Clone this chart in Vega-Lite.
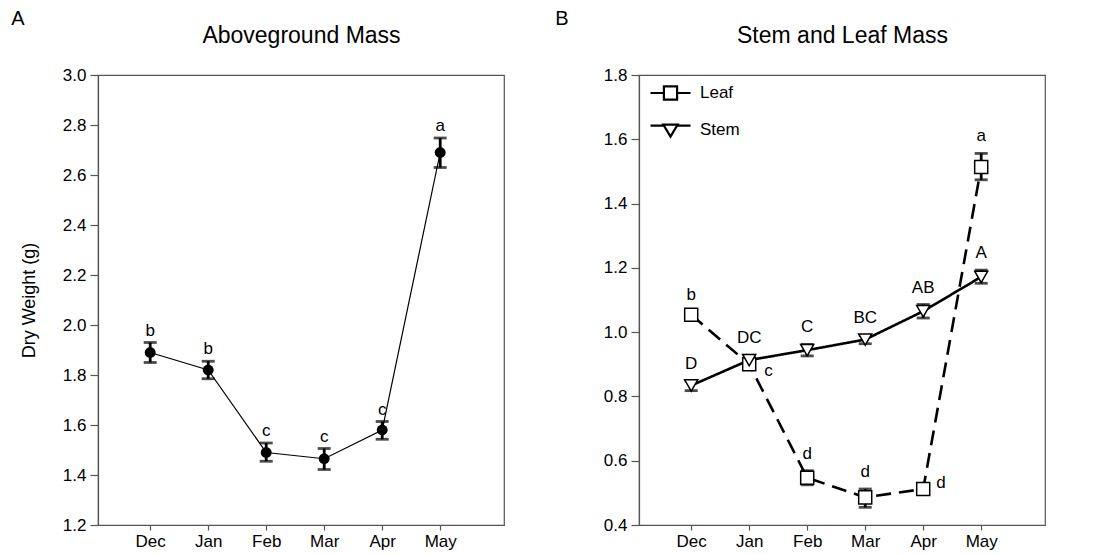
{
  "$schema": "https://vega.github.io/schema/vega-lite/v6.json",
  "padding": {"left": 10, "top": 8, "right": 0, "bottom": 0},
  "background": "white",
  "config": {
    "font": "Liberation Sans",
    "view": {"stroke": "#555", "strokeWidth": 1.2},
    "axis": {"grid": false, "domainColor": "#555", "domainWidth": 1.2, "tickColor": "#555", "tickWidth": 1.2, "labelFont": "Liberation Sans", "labelFontSize": 17, "labelColor": "black", "titleFont": "Liberation Sans", "titleFontSize": 18, "titleFontWeight": "normal", "titleColor": "black"},
    "axisY": {"tickSize": 8, "labelPadding": 4, "titlePadding": 24},
    "axisX": {"tickSize": 5, "labelPadding": 3},
    "title": {"font": "Liberation Sans", "fontSize": 20, "fontWeight": "normal", "color": "black"}
  },
  "datasets": {
    "mass": [
      {"month": "Dec", "mean": 1.89, "lo": 1.85, "hi": 1.93, "letter": "b"},
      {"month": "Jan", "mean": 1.82, "lo": 1.785, "hi": 1.855, "letter": "b"},
      {"month": "Feb", "mean": 1.49, "lo": 1.455, "hi": 1.528, "letter": "c"},
      {"month": "Mar", "mean": 1.465, "lo": 1.422, "hi": 1.506, "letter": "c"},
      {"month": "Apr", "mean": 1.58, "lo": 1.543, "hi": 1.614, "letter": "c"},
      {"month": "May", "mean": 2.69, "lo": 2.63, "hi": 2.748, "letter": "a"}
    ],
    "parts": [
      {"series": "Leaf", "month": "Dec", "mean": 1.054, "lo": 1.044, "hi": 1.064, "letter": "b"},
      {"series": "Leaf", "month": "Jan", "mean": 0.9, "lo": 0.89, "hi": 0.91, "letter": "c"},
      {"series": "Leaf", "month": "Feb", "mean": 0.547, "lo": 0.525, "hi": 0.569, "letter": "d"},
      {"series": "Leaf", "month": "Mar", "mean": 0.486, "lo": 0.455, "hi": 0.512, "letter": "d"},
      {"series": "Leaf", "month": "Apr", "mean": 0.512, "lo": 0.502, "hi": 0.522, "letter": "d"},
      {"series": "Leaf", "month": "May", "mean": 1.514, "lo": 1.474, "hi": 1.556, "letter": "a"},
      {"series": "Stem", "month": "Dec", "mean": 0.834, "lo": 0.818, "hi": 0.848, "letter": "D"},
      {"series": "Stem", "month": "Jan", "mean": 0.913, "lo": 0.898, "hi": 0.928, "letter": "DC"},
      {"series": "Stem", "month": "Feb", "mean": 0.944, "lo": 0.926, "hi": 0.962, "letter": "C"},
      {"series": "Stem", "month": "Mar", "mean": 0.977, "lo": 0.964, "hi": 0.99, "letter": "BC"},
      {"series": "Stem", "month": "Apr", "mean": 1.065, "lo": 1.044, "hi": 1.086, "letter": "AB"},
      {"series": "Stem", "month": "May", "mean": 1.172, "lo": 1.152, "hi": 1.193, "letter": "A"}
    ]
  },
  "spacing": 49,
  "hconcat": [
    {
      "width": 406,
      "height": 450,
      "title": {"text": "A", "anchor": "start", "frame": "bounds", "offset": -5, "dx": -9},
      "data": {"name": "mass"},
      "resolve": {"axis": {"x": "independent"}},
      "layer": [
        {
          "mark": {"type": "line", "color": "black", "strokeWidth": 1.2},
          "encoding": {
            "x": {"field": "month", "type": "ordinal", "sort": ["Dec", "Jan", "Feb", "Mar", "Apr", "May"], "scale": {"type": "point", "padding": 1, "align": 0.45}, "axis": {"orient": "bottom", "labelAngle": 0, "title": null}},
            "y": {"field": "mean", "type": "quantitative", "scale": {"domain": [1.2, 3.0], "nice": false, "zero": false}, "axis": {"title": "Dry Weight (g)", "values": [1.2, 1.4, 1.6, 1.8, 2.0, 2.2, 2.4, 2.6, 2.8, 3.0], "format": ".1f"}}
          }
        },
        {
          "mark": {"type": "errorbar", "ticks": true, "size": 13, "thickness": 2.8, "color": "black"},
          "encoding": {
            "x": {"field": "month", "type": "ordinal", "sort": ["Dec", "Jan", "Feb", "Mar", "Apr", "May"], "axis": null},
            "y": {"field": "lo", "type": "quantitative", "title": "Dry Weight (g)"},
            "y2": {"field": "hi"}
          }
        },
        {
          "mark": {"type": "point", "filled": true, "shape": "circle", "size": 120, "color": "black", "opacity": 1},
          "encoding": {
            "x": {"field": "month", "type": "ordinal", "sort": ["Dec", "Jan", "Feb", "Mar", "Apr", "May"], "axis": null},
            "y": {"field": "mean", "type": "quantitative", "title": "Dry Weight (g)"}
          }
        },
        {
          "mark": {"type": "text", "baseline": "bottom", "dy": -3, "fontSize": 17, "color": "black"},
          "encoding": {
            "x": {"field": "month", "type": "ordinal", "sort": ["Dec", "Jan", "Feb", "Mar", "Apr", "May"], "axis": {"orient": "top", "title": "Aboveground Mass", "labels": false, "ticks": false, "domain": false, "titleFontSize": 23, "titlePadding": 28}},
            "y": {"field": "hi", "type": "quantitative", "title": "Dry Weight (g)"},
            "text": {"field": "letter"}
          }
        }
      ]
    },
    {
      "width": 406,
      "height": 450,
      "title": {"text": "B", "anchor": "start", "frame": "bounds", "offset": -5, "dx": -48},
      "data": {"name": "parts"},
      "resolve": {"axis": {"x": "independent"}, "scale": {"shape": "independent"}, "legend": {"shape": "independent"}},
      "layer": [
        {
          "mark": {"type": "line", "color": "black", "strokeWidth": 2.6},
          "encoding": {
            "x": {"field": "month", "type": "ordinal", "sort": ["Dec", "Jan", "Feb", "Mar", "Apr", "May"], "scale": {"type": "point", "padding": 1, "align": 0.45}, "axis": {"orient": "bottom", "labelAngle": 0, "title": null}},
            "y": {"field": "mean", "type": "quantitative", "scale": {"domain": [0.4, 1.8], "nice": false, "zero": false}, "axis": {"title": null, "values": [0.4, 0.6, 0.8, 1.0, 1.2, 1.4, 1.6, 1.8], "format": ".1f"}},
            "strokeDash": {"field": "series", "type": "nominal", "scale": {"domain": ["Leaf", "Stem"], "range": [[15, 8], [1, 0]]}, "legend": null}
          }
        },
        {
          "mark": {"type": "errorbar", "ticks": true, "size": 13, "thickness": 2.8, "color": "black"},
          "encoding": {
            "x": {"field": "month", "type": "ordinal", "sort": ["Dec", "Jan", "Feb", "Mar", "Apr", "May"], "axis": null},
            "y": {"field": "lo", "type": "quantitative", "title": null},
            "y2": {"field": "hi"},
            "detail": {"field": "series"}
          }
        },
        {
          "mark": {"type": "point", "filled": true, "fill": "white", "stroke": "black", "strokeWidth": 1.5, "size": 170, "opacity": 1},
          "encoding": {
            "x": {"field": "month", "type": "ordinal", "sort": ["Dec", "Jan", "Feb", "Mar", "Apr", "May"], "axis": null},
            "y": {"field": "mean", "type": "quantitative", "title": null},
            "shape": {"field": "series", "type": "nominal", "scale": {"domain": ["Leaf", "Stem"], "range": ["square", "triangle-down"]}, "legend": null}
          }
        },
        {
          "mark": {"type": "point", "size": 0, "filled": false, "stroke": "black"},
          "encoding": {
            "x": {"field": "month", "type": "ordinal", "sort": ["Dec", "Jan", "Feb", "Mar", "Apr", "May"], "axis": null},
            "y": {"field": "mean", "type": "quantitative", "title": null},
            "shape": {"field": "series", "type": "nominal", "scale": {"domain": ["Leaf", "Stem"], "range": ["M-1,0H-0.33M0.33,0H1M-0.33,-0.33H0.33V0.33H-0.33Z", "M-1,-0.22H-0.36M0.36,-0.22H1M-0.36,-0.27H0.36L0,0.33Z"]}, "legend": {"title": null, "orient": "none", "legendX": 10, "legendY": 6, "symbolSize": 1600, "symbolStrokeColor": "black", "symbolFillColor": "white", "symbolStrokeWidth": 2.2, "symbolOpacity": 1, "clipHeight": 24, "rowPadding": 13, "labelOffset": 8, "labelFontSize": 17, "labelColor": "black", "padding": 0}}
          }
        },
        {
          "transform": [{"filter": "!(datum.series == 'Leaf' && (datum.month == 'Jan' || datum.month == 'Apr'))"}],
          "mark": {"type": "text", "baseline": "bottom", "dy": -8, "fontSize": 17, "color": "black"},
          "encoding": {
            "x": {"field": "month", "type": "ordinal", "sort": ["Dec", "Jan", "Feb", "Mar", "Apr", "May"], "axis": {"orient": "top", "title": "Stem and Leaf Mass", "labels": false, "ticks": false, "domain": false, "titleFontSize": 23, "titlePadding": 28}},
            "y": {"field": "hi", "type": "quantitative", "title": null},
            "text": {"field": "letter"}
          }
        },
        {
          "transform": [{"filter": "datum.series == 'Leaf' && datum.month == 'Jan'"}],
          "mark": {"type": "text", "align": "left", "baseline": "middle", "dx": 15, "dy": 7, "fontSize": 17, "color": "black"},
          "encoding": {
            "x": {"field": "month", "type": "ordinal", "sort": ["Dec", "Jan", "Feb", "Mar", "Apr", "May"], "axis": null},
            "y": {"field": "mean", "type": "quantitative", "title": null},
            "text": {"field": "letter"}
          }
        },
        {
          "transform": [{"filter": "datum.series == 'Leaf' && datum.month == 'Apr'"}],
          "mark": {"type": "text", "align": "left", "baseline": "middle", "dx": 13, "dy": -6, "fontSize": 17, "color": "black"},
          "encoding": {
            "x": {"field": "month", "type": "ordinal", "sort": ["Dec", "Jan", "Feb", "Mar", "Apr", "May"], "axis": null},
            "y": {"field": "mean", "type": "quantitative", "title": null},
            "text": {"field": "letter"}
          }
        }
      ]
    }
  ]
}
